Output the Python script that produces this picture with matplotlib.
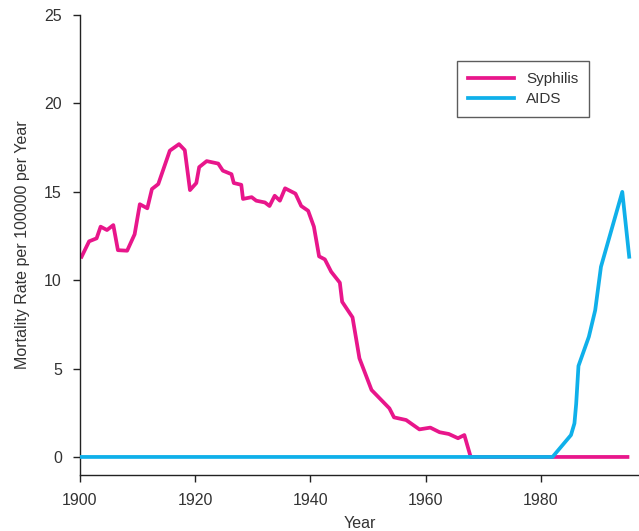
import matplotlib.pyplot as plt

# values
syph_years = [1900.3, 1901.6, 1902.9, 1903.6, 1904.7, 1905.8, 1906.6, 1908.2, 1909.5,
              1910.4, 1911.7, 1912.5, 1913.6, 1915.6, 1917.2, 1918.2, 1919.1, 1920.2,
              1920.7, 1922.0, 1924.0, 1924.8, 1926.3, 1926.7, 1928.0, 1928.3, 1929.8,
              1930.6, 1932.1, 1932.9, 1933.8, 1934.7, 1935.6, 1937.4, 1938.4, 1939.6,
              1940.6, 1941.5, 1942.5, 1943.6, 1945.1, 1945.5, 1947.3, 1948.5, 1950.6,
              1953.7, 1954.5, 1956.6, 1958.9, 1960.8, 1962.4, 1964.0, 1965.6, 1966.7,
              1967.8, 1995.0]
syph_rate = [11.33, 12.2, 12.37, 13.03, 12.84, 13.12, 11.7, 11.67, 12.6,
             14.3, 14.07, 15.16, 15.44, 17.33, 17.7, 17.36, 15.1, 15.5,
             16.4, 16.74, 16.6, 16.2, 16.0, 15.5, 15.4, 14.6, 14.7,
             14.5, 14.4, 14.2, 14.78, 14.5, 15.2, 14.9, 14.2, 13.93,
             13.03, 11.35, 11.18, 10.48, 9.86, 8.78, 7.9, 5.58, 3.79,
             2.75, 2.24, 2.09, 1.56, 1.66, 1.40, 1.30, 1.06, 1.24,
             0.0, 0.0]

aids_years = [1900, 1982, 1985.2, 1985.8, 1986.1, 1986.5, 1988.3, 1989.4, 1990.4, 1994.1, 1995.3]
aids_rate = [0.0, 0.0, 1.24, 1.9, 3.0, 5.15, 6.8, 8.3, 10.76, 15.0, 11.33]

x_ticks = [1900, 1920, 1940, 1960, 1980]
y_ticks = [0, 5, 10, 15, 20, 25]

plt.rcParams['font.family'] = ['Liberation Sans', 'DejaVu Sans']
text_col = '#333333'

fig = plt.figure(figsize=(6.39, 5.31), dpi=100)
ax = fig.add_axes([0.125, 0.1055, 0.875, 0.866])

ax.plot(syph_years, syph_rate, color='#E8168B', lw=2.7, label='Syphilis', zorder=2)
ax.plot(aids_years, aids_rate, color='#0FB0EA', lw=2.7, label='AIDS', zorder=3)

ax.set_xlim(1900, 1997)
ax.set_ylim(-1.02, 25)
ax.set_xticks(x_ticks)
ax.set_yticks(y_ticks)

for s in ['top', 'right']:
    ax.spines[s].set_visible(False)
for s in ['left', 'bottom']:
    ax.spines[s].set_color('#222222')
    ax.spines[s].set_linewidth(1.0)

ax.tick_params(direction='out', length=5, width=1, colors='#222222',
               labelcolor=text_col, labelsize=11.5, pad=8)

ax.set_xlabel('Year', fontsize=11.5, color=text_col, labelpad=6)
ax.set_ylabel('Mortality Rate per 100000 per Year', fontsize=11.5, color=text_col, labelpad=10)

leg = ax.legend(loc='upper left', bbox_to_anchor=(0.6615, 0.916), fontsize=11,
                frameon=True, fancybox=False, handlelength=3.0, borderpad=0.7,
                labelspacing=0.4, handletextpad=0.8)
leg.get_frame().set_edgecolor('#333333')
leg.get_frame().set_linewidth(1.0)
for t in leg.get_texts():
    t.set_color(text_col)

fig.savefig('out.png', dpi=100)
